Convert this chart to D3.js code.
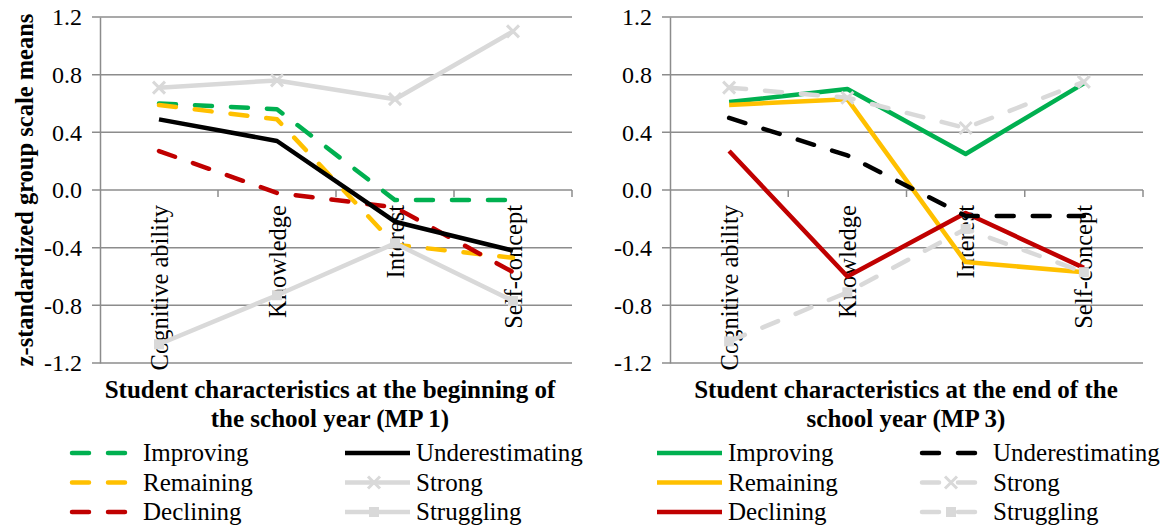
<!DOCTYPE html>
<html>
<head>
<meta charset="utf-8">
<script src="https://cdn.jsdelivr.net/npm/d3@7"></script>
<style>
  body { margin: 0; background: #fff; }
  svg { display: block; }
  svg text { font-family: "Liberation Serif", Tinos, "Times New Roman", Times, "DejaVu Serif", serif; }
</style>
</head>
<body>
<svg id="chart" width="1167" height="529"></svg>
<script>
// categories and ticks
const categories = ["Cognitive ability", "Knowledge", "Interest", "Self-concept"];
const yTicks = [-1.2, -0.8, -0.4, 0.0, 0.4, 0.8, 1.2];
const groups = ["Improving", "Remaining", "Declining", "Underestimating", "Strong", "Struggling"];

// MP 1 (beginning of the school year)
const mp1Improving = [0.60, 0.56, -0.07, -0.07];
const mp1Remaining = [0.59, 0.49, -0.38, -0.47];
const mp1Declining = [0.27, -0.02, -0.12, -0.57];
const mp1Underestimating = [0.49, 0.34, -0.22, -0.42];
const mp1Strong = [0.71, 0.76, 0.63, 1.10];
const mp1Struggling = [-1.07, -0.73, -0.37, -0.77];

// MP 3 (end of the school year)
const mp3Improving = [0.61, 0.70, 0.25, 0.74];
const mp3Remaining = [0.59, 0.63, -0.50, -0.57];
const mp3Declining = [0.27, -0.60, -0.16, -0.54];
const mp3Underestimating = [0.50, 0.24, -0.18, -0.18];
const mp3Strong = [0.71, 0.64, 0.43, 0.75];
const mp3Struggling = [-1.05, -0.71, -0.27, -0.57];

const colors = {
    Improving: "#00B050", Remaining: "#FFC000", Declining: "#C00000",
    Underestimating: "#000000", Strong: "#D9D9D9", Struggling: "#D9D9D9"
};
const markers = { Strong: "x", Struggling: "square" };
const DASH = "17,19";

const svg = d3.select("#chart");

const y = d3.scaleLinear().domain([-1.2, 1.2]).range([363, 17]);

function drawPanel(opts) {
    const g = svg.append("g");
    const x = d3.scaleBand().domain(categories).range([opts.x0, opts.x1]);
    const cx = d => x(d) + x.bandwidth() / 2;

    // gridlines
    g.selectAll("line.grid")
        .data(yTicks)
        .join("line")
        .attr("x1", opts.x0 - 8)
        .attr("x2", opts.x1)
        .attr("y1", d => y(d))
        .attr("y2", d => y(d))
        .attr("stroke", "#8c8c8c")
        .attr("stroke-width", 1.5);

    // y axis (labels + vertical line)
    const yAxis = g.append("g")
        .attr("transform", `translate(${opts.x0},0)`)
        .call(d3.axisLeft(y).tickValues(yTicks).tickFormat(d => d.toFixed(1))
            .tickSize(0).tickSizeOuter(0).tickPadding(18));
    yAxis.attr("font-family", null);
    yAxis.select(".domain").attr("stroke", "#8c8c8c").attr("stroke-width", 1.5);
    yAxis.selectAll("text")
        .attr("font-size", 24)
        .attr("fill", "#000");

    // category boundary ticks on the zero line
    const bounds = categories.map(c => x(c)).concat([opts.x1]);
    g.selectAll("line.xtick")
        .data(bounds.slice(1))
        .join("line")
        .attr("x1", d => d).attr("x2", d => d)
        .attr("y1", y(0)).attr("y2", y(0) + 7)
        .attr("stroke", "#8c8c8c")
        .attr("stroke-width", 1.5);

    // category labels, rotated
    g.selectAll("text.cat")
        .data(categories)
        .join("text")
        .attr("transform", d => `translate(${cx(d)},${y(0) + 15}) rotate(-90)`)
        .attr("text-anchor", "end")
        .attr("dy", "0.35em")
        .attr("font-size", 24.5)
        .text(d => d);

    const line = d3.line()
        .x((d, i) => cx(categories[i]))
        .y(d => y(d));

    groups.forEach(name => {
        const vals = opts.series[name];
        const dashed = opts.dashed.includes(name);
        g.append("path")
            .datum(vals)
            .attr("fill", "none")
            .attr("stroke", colors[name])
            .attr("stroke-width", 4.5)
            .attr("stroke-linecap", dashed ? "round" : "butt")
            .attr("stroke-linejoin", "round")
            .attr("stroke-dasharray", dashed ? DASH : null)
            .attr("d", line);
        if (markers[name]) {
            vals.forEach((v, i) => drawMarker(g, markers[name], cx(categories[i]), y(v), colors[name]));
        }
    });

    // x axis title
    const title = g.append("text")
        .attr("text-anchor", "middle")
        .attr("font-weight", "bold")
        .attr("font-size", 25);
    opts.title.forEach((t, i) => {
        title.append("tspan")
            .attr("x", opts.titleX)
            .attr("y", 398 + i * 29)
            .text(t);
    });

    // legend, two columns of three
    groups.forEach((name, i) => {
        const col = Math.floor(i / 3), row = i % 3;
        const kx = opts.legendX[col];
        const ky = 453 + row * 29.5;
        const dashed = opts.dashed.includes(name);
        g.append("line")
            .attr("x1", kx + 2).attr("x2", dashed ? kx + 56 : kx + 67)
            .attr("y1", ky).attr("y2", ky)
            .attr("stroke", colors[name])
            .attr("stroke-width", 4.5)
            .attr("stroke-linecap", dashed ? "round" : "butt")
            .attr("stroke-dasharray", dashed ? DASH : null);
        if (markers[name]) drawMarker(g, markers[name], kx + 31, ky, colors[name]);
        g.append("text")
            .attr("x", kx + 73)
            .attr("y", ky)
            .attr("dy", "0.33em")
            .attr("font-size", 25)
            .text(name);
    });
}

function drawMarker(g, type, mx, my, color) {
    if (type === "x") {
        const s = 6;
        g.append("path")
            .attr("d", `M${mx - s},${my - s}L${mx + s},${my + s}M${mx - s},${my + s}L${mx + s},${my - s}`)
            .attr("stroke", color)
            .attr("stroke-width", 3)
            .attr("fill", "none");
    } else {
        g.append("rect")
            .attr("x", mx - 5).attr("y", my - 5)
            .attr("width", 10).attr("height", 10)
            .attr("fill", color);
    }
}

// left panel: beginning of school year
drawPanel({
    x0: 100, x1: 572,
    titleX: 330,
    title: ["Student characteristics at the beginning of", "the school year (MP 1)"],
    legendX: [70, 343],
    dashed: ["Improving", "Remaining", "Declining"],
    series: {
        Improving: mp1Improving, Remaining: mp1Remaining, Declining: mp1Declining,
        Underestimating: mp1Underestimating, Strong: mp1Strong, Struggling: mp1Struggling
    }
});

// right panel: end of school year
drawPanel({
    x0: 670, x1: 1143,
    titleX: 906,
    title: ["Student characteristics at the end of the", "school year (MP 3)"],
    legendX: [655, 920],
    dashed: ["Underestimating", "Strong", "Struggling"],
    series: {
        Improving: mp3Improving, Remaining: mp3Remaining, Declining: mp3Declining,
        Underestimating: mp3Underestimating, Strong: mp3Strong, Struggling: mp3Struggling
    }
});

// y axis title (left panel only)
svg.append("text")
    .attr("transform", `translate(24,${y(0)}) rotate(-90)`)
    .attr("text-anchor", "middle")
    .attr("dy", "0.35em")
    .attr("font-weight", "bold")
    .attr("font-size", 24.5)
    .text("z-standardized group scale means");
</script>
</body>
</html>
